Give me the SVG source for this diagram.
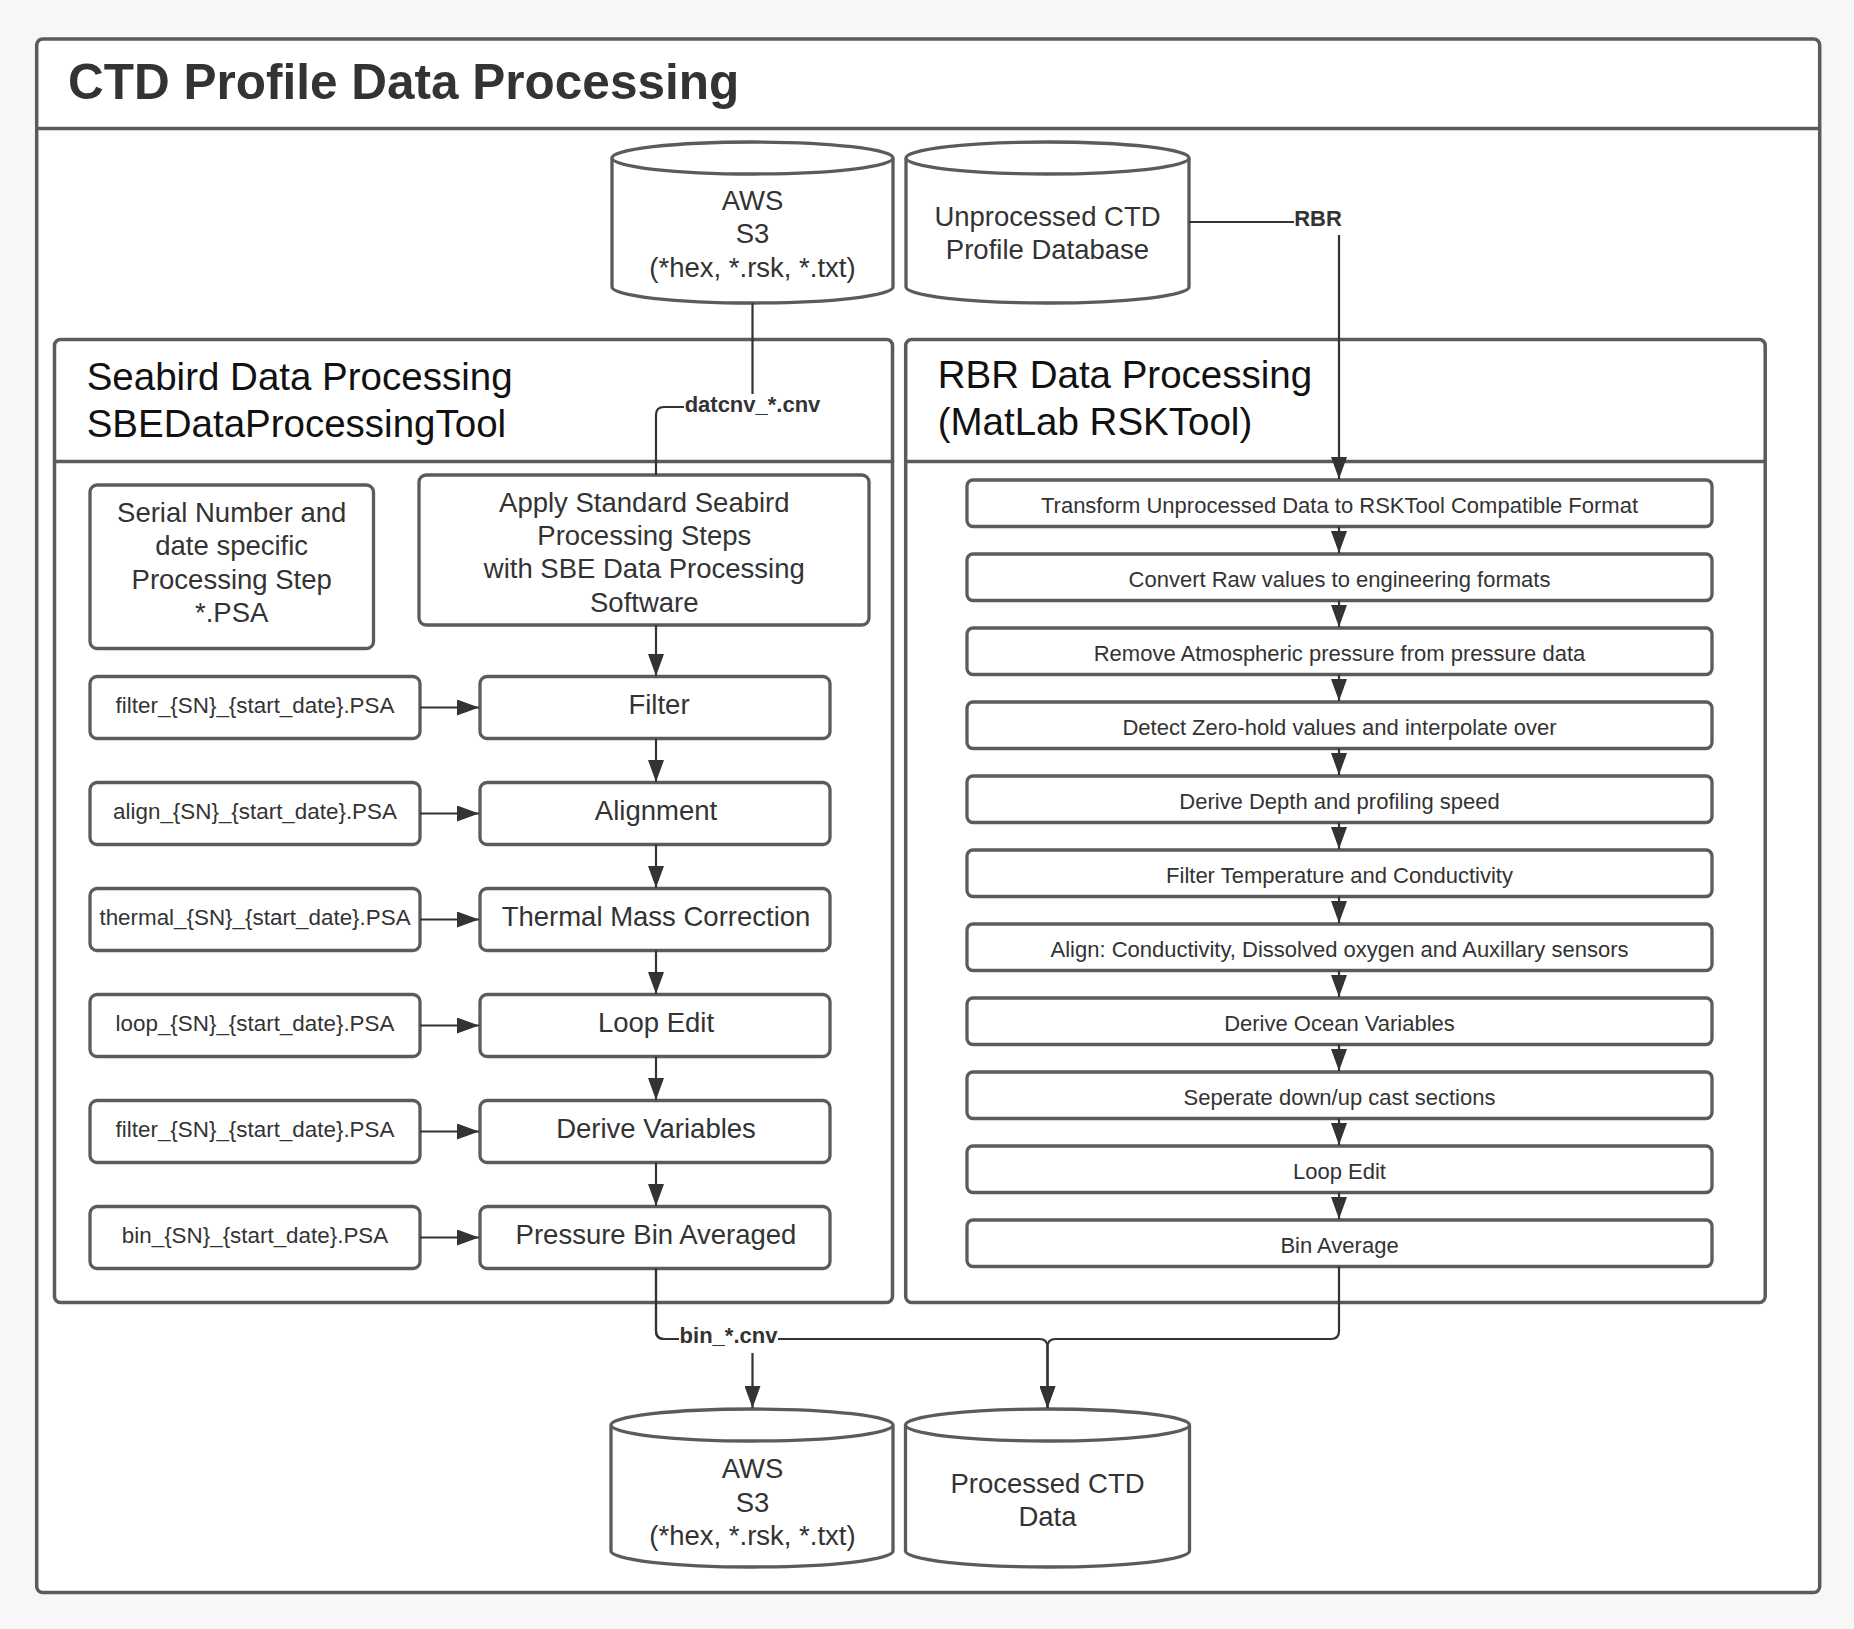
<svg xmlns="http://www.w3.org/2000/svg" width="1854" height="1629" viewBox="0 0 1854 1629">
<style>
.frame{fill:#fff;stroke:#5b5b5b;stroke-width:3.5}
.sep{fill:none;stroke:#5b5b5b;stroke-width:3.5}
.box{fill:#fff;stroke:#5b5b5b;stroke-width:3.3}
.cyl{fill:#fff;stroke:#5b5b5b;stroke-width:3.3}
.con{fill:none;stroke:#333;stroke-width:2.2}
.arr{fill:none;stroke:#333;stroke-width:2.2;marker-end:url(#ah)}
text{font-family:"Liberation Sans",Arial,sans-serif;fill:#333}
.title{font-size:49.5px;font-weight:bold}
.hdr{font-size:38.5px;fill:#111}
.t27{font-size:27.5px;text-anchor:middle}
.t22{font-size:22.4px;text-anchor:middle}
.r22{font-size:22px;text-anchor:middle}
.lbl{font-size:22px;font-weight:bold;text-anchor:middle}
.lblbg{fill:#fff}
</style>
<defs>
<marker id="ah" markerUnits="userSpaceOnUse" markerWidth="22" markerHeight="16" refX="22" refY="8" orient="auto">
<path d="M0,0 L22,8 L0,16 Z" fill="#333"/>
</marker>
</defs>
<rect width="1854" height="1629" fill="#f7f7f7"/>

<g id="main-frame">
<rect class="frame" x="36.7" y="39" width="1783" height="1553.5" rx="6"/>
<line class="sep" x1="36.7" y1="128.5" x2="1819.7" y2="128.5"/>
<text class="title" x="68" y="99">CTD Profile Data Processing</text>
</g>

<g id="seabird-container">
<rect class="frame" x="54.5" y="339.5" width="838" height="963" rx="6"/>
<line class="sep" x1="54.5" y1="461.5" x2="892.5" y2="461.5"/>
<text class="hdr" x="86.7" y="390">Seabird Data Processing</text>
<text class="hdr" x="86.7" y="436.7">SBEDataProcessingTool</text>
</g>

<g id="rbr-container">
<rect class="frame" x="905.7" y="339.5" width="859.5" height="963" rx="6"/>
<line class="sep" x1="905.7" y1="461.5" x2="1765.2" y2="461.5"/>
<text class="hdr" x="937.7" y="388.3">RBR Data Processing</text>
<text class="hdr" x="937.7" y="435">(MatLab RSKTool)</text>
</g>

<g id="aws-s3-in">
<path class="cyl" d="M612,158 A140.5,16 0 0 1 893,158 V287 A140.5,16 0 0 1 612,287 Z"/>
<path class="cyl" d="M612,158 A140.5,16 0 0 0 893,158"/>
<text class="t27" x="752.5" y="210">AWS</text>
<text class="t27" x="752.5" y="243.3">S3</text>
<text class="t27" x="752.5" y="276.7">(*hex, *.rsk, *.txt)</text>
</g>

<g id="unprocessed-db">
<path class="cyl" d="M906,158 A141.5,16 0 0 1 1189,158 V287 A141.5,16 0 0 1 906,287 Z"/>
<path class="cyl" d="M906,158 A141.5,16 0 0 0 1189,158"/>
<text class="t27" x="1047.5" y="226">Unprocessed CTD</text>
<text class="t27" x="1047.5" y="259.3">Profile Database</text>
</g>

<g id="aws-s3-out">
<path class="cyl" d="M611,1425 A141,16 0 0 1 893,1425 V1551 A141,16 0 0 1 611,1551 Z"/>
<path class="cyl" d="M611,1425 A141,16 0 0 0 893,1425"/>
<text class="t27" x="752.5" y="1478.3">AWS</text>
<text class="t27" x="752.5" y="1511.5">S3</text>
<text class="t27" x="752.5" y="1545">(*hex, *.rsk, *.txt)</text>
</g>

<g id="processed-db">
<path class="cyl" d="M905.5,1425 A142,16 0 0 1 1189.5,1425 V1551 A142,16 0 0 1 905.5,1551 Z"/>
<path class="cyl" d="M905.5,1425 A142,16 0 0 0 1189.5,1425"/>
<text class="t27" x="1047.5" y="1493.3">Processed CTD</text>
<text class="t27" x="1047.5" y="1526">Data</text>
</g>

<g id="serial-note">
<rect class="box" x="90" y="485" width="283.5" height="163.5" rx="7"/>
<text class="t27" x="231.7" y="522">Serial Number and</text>
<text class="t27" x="231.7" y="555.3">date specific</text>
<text class="t27" x="231.7" y="588.7">Processing Step</text>
<text class="t27" x="231.7" y="622">*.PSA</text>
</g>

<g id="apply-sbe">
<rect class="box" x="419" y="475" width="450" height="150" rx="7"/>
<text class="t27" x="644.3" y="511.7">Apply Standard Seabird</text>
<text class="t27" x="644.3" y="545">Processing Steps</text>
<text class="t27" x="644.3" y="578.3">with SBE Data Processing</text>
<text class="t27" x="644.3" y="611.7">Software</text>
</g>

<g id="psa-filter"><rect class="box" x="90" y="676.5" width="330" height="62" rx="7"/><text class="t22" x="255" y="712.5">filter_{SN}_{start_date}.PSA</text></g>
<g id="psa-align"><rect class="box" x="90" y="782.5" width="330" height="62" rx="7"/><text class="t22" x="255" y="818.5">align_{SN}_{start_date}.PSA</text></g>
<g id="psa-thermal"><rect class="box" x="90" y="888.5" width="330" height="62" rx="7"/><text class="t22" x="255" y="924.5">thermal_{SN}_{start_date}.PSA</text></g>
<g id="psa-loop"><rect class="box" x="90" y="994.5" width="330" height="62" rx="7"/><text class="t22" x="255" y="1030.5">loop_{SN}_{start_date}.PSA</text></g>
<g id="psa-derive"><rect class="box" x="90" y="1100.5" width="330" height="62" rx="7"/><text class="t22" x="255" y="1136.5">filter_{SN}_{start_date}.PSA</text></g>
<g id="psa-bin"><rect class="box" x="90" y="1206.5" width="330" height="62" rx="7"/><text class="t22" x="255" y="1242.5">bin_{SN}_{start_date}.PSA</text></g>

<g id="sbe-filter"><rect class="box" x="480" y="676.5" width="350" height="62" rx="7"/><text class="t27" x="659" y="714">Filter</text></g>
<g id="sbe-align"><rect class="box" x="480" y="782.5" width="350" height="62" rx="7"/><text class="t27" x="656" y="820">Alignment</text></g>
<g id="sbe-thermal"><rect class="box" x="480" y="888.5" width="350" height="62" rx="7"/><text class="t27" x="656" y="926">Thermal Mass Correction</text></g>
<g id="sbe-loop"><rect class="box" x="480" y="994.5" width="350" height="62" rx="7"/><text class="t27" x="656" y="1032">Loop Edit</text></g>
<g id="sbe-derive"><rect class="box" x="480" y="1100.5" width="350" height="62" rx="7"/><text class="t27" x="656" y="1138">Derive Variables</text></g>
<g id="sbe-bin"><rect class="box" x="480" y="1206.5" width="350" height="62" rx="7"/><text class="t27" x="656" y="1244">Pressure Bin Averaged</text></g>

<g id="rbr-1"><rect class="box" x="967" y="480" width="745" height="46.5" rx="6"/><text class="r22" x="1339.5" y="512.5">Transform Unprocessed Data to RSKTool Compatible Format</text></g>
<g id="rbr-2"><rect class="box" x="967" y="554" width="745" height="46.5" rx="6"/><text class="r22" x="1339.5" y="586.5">Convert Raw values to engineering formats</text></g>
<g id="rbr-3"><rect class="box" x="967" y="628" width="745" height="46.5" rx="6"/><text class="r22" x="1339.5" y="660.5">Remove Atmospheric pressure from pressure data</text></g>
<g id="rbr-4"><rect class="box" x="967" y="702" width="745" height="46.5" rx="6"/><text class="r22" x="1339.5" y="734.5">Detect Zero-hold values and interpolate over</text></g>
<g id="rbr-5"><rect class="box" x="967" y="776" width="745" height="46.5" rx="6"/><text class="r22" x="1339.5" y="808.5">Derive Depth and profiling speed</text></g>
<g id="rbr-6"><rect class="box" x="967" y="850" width="745" height="46.5" rx="6"/><text class="r22" x="1339.5" y="882.5">Filter Temperature and Conductivity</text></g>
<g id="rbr-7"><rect class="box" x="967" y="924" width="745" height="46.5" rx="6"/><text class="r22" x="1339.5" y="956.5">Align: Conductivity, Dissolved oxygen and Auxillary sensors</text></g>
<g id="rbr-8"><rect class="box" x="967" y="998" width="745" height="46.5" rx="6"/><text class="r22" x="1339.5" y="1030.5">Derive Ocean Variables</text></g>
<g id="rbr-9"><rect class="box" x="967" y="1072" width="745" height="46.5" rx="6"/><text class="r22" x="1339.5" y="1104.5">Seperate down/up cast sections</text></g>
<g id="rbr-10"><rect class="box" x="967" y="1146" width="745" height="46.5" rx="6"/><text class="r22" x="1339.5" y="1178.5">Loop Edit</text></g>
<g id="rbr-11"><rect class="box" x="967" y="1220" width="745" height="46.5" rx="6"/><text class="r22" x="1339.5" y="1252.5">Bin Average</text></g>

<g id="connectors">
<path class="con" d="M752.5,303 V399 Q752.5,407 744.5,407 H664 Q656,407 656,415 V475"/>
<path class="arr" d="M1189,222 H1331 Q1339,222 1339,230 V479"/>
<path class="arr" d="M656,625 V676"/>
<path class="arr" d="M656,738.5 V782"/>
<path class="arr" d="M656,844.5 V888"/>
<path class="arr" d="M656,950.5 V994"/>
<path class="arr" d="M656,1056.5 V1100"/>
<path class="arr" d="M656,1162.5 V1206"/>
<path class="arr" d="M420,707.5 H479"/>
<path class="arr" d="M420,813.5 H479"/>
<path class="arr" d="M420,919.5 H479"/>
<path class="arr" d="M420,1025.5 H479"/>
<path class="arr" d="M420,1131.5 H479"/>
<path class="arr" d="M420,1237.5 H479"/>
<path class="arr" d="M1339,526.5 V553"/>
<path class="arr" d="M1339,600.5 V627"/>
<path class="arr" d="M1339,674.5 V701"/>
<path class="arr" d="M1339,748.5 V775"/>
<path class="arr" d="M1339,822.5 V849"/>
<path class="arr" d="M1339,896.5 V923"/>
<path class="arr" d="M1339,970.5 V997"/>
<path class="arr" d="M1339,1044.5 V1071"/>
<path class="arr" d="M1339,1118.5 V1145"/>
<path class="arr" d="M1339,1192.5 V1219"/>
<path class="arr" d="M656,1268.5 V1331 Q656,1339 664,1339 H752.5 V1408"/>
<path class="arr" d="M656,1268.5 V1331 Q656,1339 664,1339 H1039.5 Q1047.5,1339 1047.5,1347 V1408"/>
<path class="arr" d="M1339,1266.5 V1331 Q1339,1339 1331,1339 H1055.5 Q1047.5,1339 1047.5,1347 V1408"/>
<rect class="lblbg" x="684" y="394" width="137" height="23"/>
<text class="lbl" x="752.5" y="412">datcnv_*.cnv</text>
<rect class="lblbg" x="1294" y="208" width="49" height="27"/>
<text class="lbl" x="1318" y="226">RBR</text>
<rect class="lblbg" x="679" y="1325" width="99" height="28"/>
<text class="lbl" x="728.5" y="1343">bin_*.cnv</text>
</g>
</svg>
